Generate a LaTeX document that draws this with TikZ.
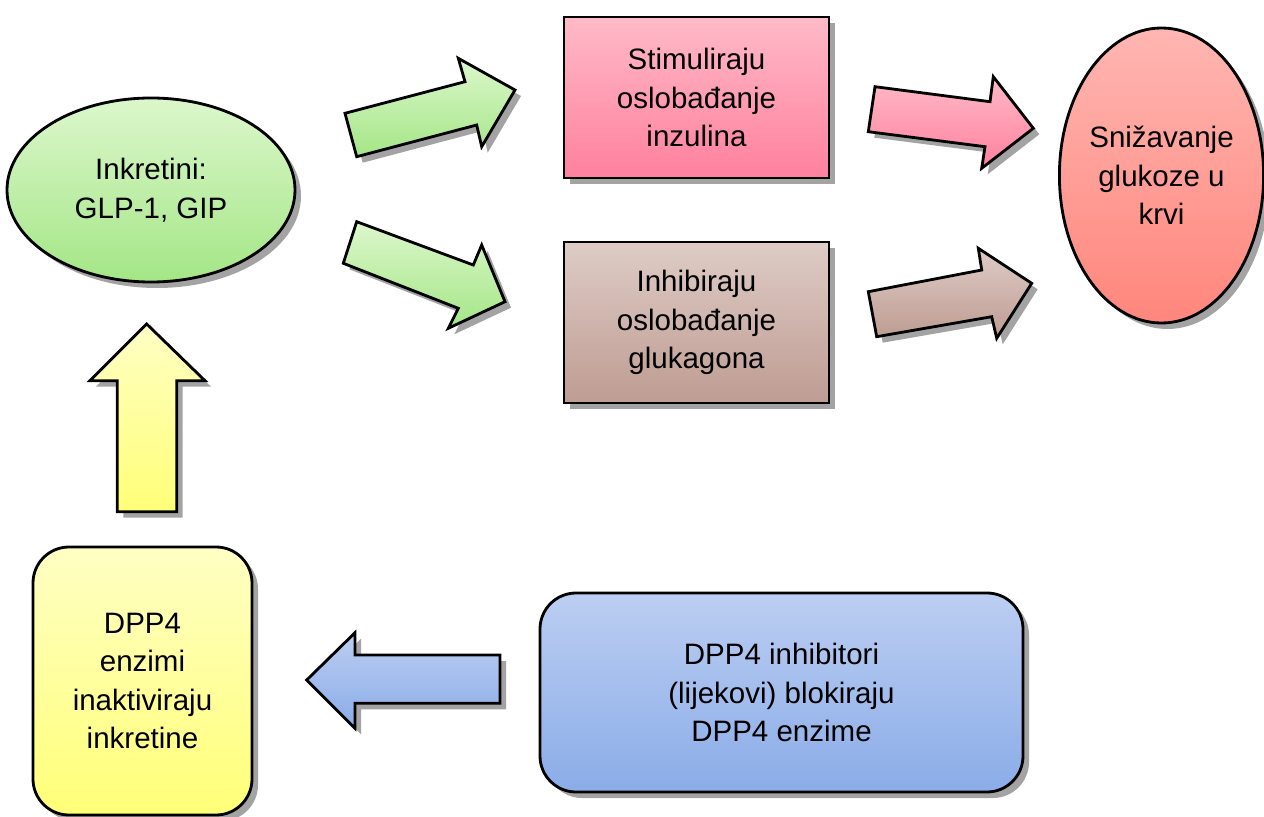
\documentclass[tikz,border=0pt]{standalone}
\usepackage{fontspec}
\setmainfont{Liberation Sans}
\usetikzlibrary{shapes.geometric,shadows}
\def\px{0.02cm}
\definecolor{grnT}{RGB}{220,247,204}
\definecolor{grnB}{RGB}{164,230,134}
\definecolor{pnkT}{RGB}{255,186,200}
\definecolor{pnkB}{RGB}{255,128,158}
\definecolor{brnT}{RGB}{222,204,198}
\definecolor{brnB}{RGB}{190,156,146}
\definecolor{redT}{RGB}{255,182,178}
\definecolor{redB}{RGB}{255,134,124}
\definecolor{ylwT}{RGB}{255,255,196}
\definecolor{ylwB}{RGB}{255,255,120}
\definecolor{bluT}{RGB}{188,206,242}
\definecolor{bluB}{RGB}{138,172,232}
\tikzset{
  shad/.style={drop shadow={shadow xshift=6*\px, shadow yshift=-6*\px, fill=black!40, opacity=0.9}},
  base/.style={draw=black, line width=1.6pt, shad, align=center, inner sep=0pt,
    font=\fontsize{16.8pt}{22pt}\selectfont},
  ell/.style={base, ellipse},
  box/.style={base, rectangle},
  rbox/.style={base, rectangle, rounded corners=36*\px},
  barrow/.style={draw=black, line width=1.6pt, line join=miter, shad},
}
\begin{document}
\begin{tikzpicture}[x=0.02cm, y=-0.02cm]
\useasboundingbox (0,0) rectangle (1264,817);
% nodes
\node[ell, top color=grnT, bottom color=grnB, minimum width=288*\px, minimum height=184*\px] (inkr) at (151,190) {Inkretini:\\GLP-1, GIP};
\node[box, top color=pnkT, bottom color=pnkB, minimum width=265*\px, minimum height=161*\px] (stim) at (696.5,97.5) {Stimuliraju\\oslobađanje\\inzulina};
\node[box, top color=brnT, bottom color=brnB, minimum width=265*\px, minimum height=161*\px] (inhib) at (696.5,322.5) {Inhibiraju\\oslobađanje\\glukagona};
\node[ell, top color=redT, bottom color=redB, minimum width=199*\px, minimum height=295*\px] (sniz) at (1161.5,175.5) {Snižavanje\\glukoze u\\krvi};
\node[rbox, top color=ylwT, bottom color=ylwB, minimum width=219*\px, minimum height=268*\px] (dpp) at (142.5,681) {DPP4\\enzimi\\inaktiviraju\\inkretine};
\node[rbox, top color=bluT, bottom color=bluB, minimum width=483*\px, minimum height=199*\px] (inh) at (781.5,692.5) {DPP4 inhibitori\\(lijekovi) blokiraju\\DPP4 enzime};
% block arrows
\path[barrow, top color=grnT, bottom color=grnB] (345,113.3) -- (465,81.7) -- (458.3,58.3) -- (515,90) -- (481.7,146.7) -- (476.7,125) -- (356.7,156.7) -- cycle;
\path[barrow, top color=grnT, bottom color=grnB] (356.7,221.7) -- (473.3,265) -- (481.7,245) -- (505,301.7) -- (448.3,328.3) -- (458.3,308.3) -- (343.3,263.3) -- cycle;
\path[barrow, top color=pnkT, bottom color=pnkB] (875,86.7) -- (990,101.7) -- (993.3,76.7) -- (1033.3,128.3) -- (981.7,168.3) -- (985,146.7) -- (868.3,131.7) -- cycle;
\path[barrow, top color=brnT, bottom color=brnB] (868.3,291.7) -- (981.7,270) -- (978.3,248.3) -- (1031.7,283.3) -- (996.7,338.3) -- (991.7,316.7) -- (876.7,336.7) -- cycle;
\path[barrow, top color=ylwT, bottom color=ylwB] (146.7,324) -- (205,380.7) -- (176.7,380.7) -- (176.7,511.7) -- (117.3,511.7) -- (117.3,380.7) -- (90,380.7) -- cycle;
\path[barrow, top color=bluT, bottom color=bluB] (306.7,680) -- (355,632.7) -- (355,655) -- (500,655) -- (500,703.3) -- (355,703.3) -- (355,728.3) -- cycle;
\end{tikzpicture}
\end{document}
